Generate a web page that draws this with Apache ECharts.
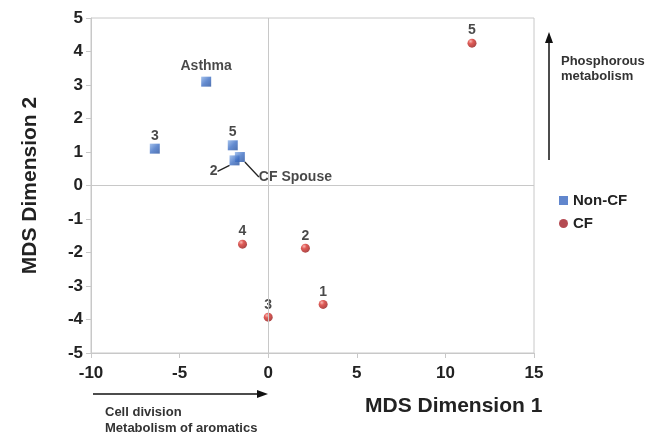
<!DOCTYPE html>
<html><head><meta charset="utf-8">
<script src="https://cdn.jsdelivr.net/npm/echarts@6/dist/echarts.min.js"></script>
<style>html,body{margin:0;padding:0;background:#fff}#c{width:660px;height:434px}</style>
</head><body><div id="c"></div>
<script>
const nonCFLabels = ['Asthma', '3', '5', '2', 'CF Spouse'];
const nonCFx = [-3.5, -6.4, -2.0, -1.9, -1.6];
const nonCFy = [3.1, 1.1, 1.2, 0.75, 0.85];
const cfLabels = ['5', '4', '2', '3', '1'];
const cfX = [11.5, -1.45, 2.1, 0.0, 3.1];
const cfY = [4.25, -1.75, -1.87, -3.93, -3.55];
const xTicks = [-10, -5, 0, 5, 10, 15];
const yTicks = [-5, -4, -3, -2, -1, 0, 1, 2, 3, 4, 5];

const FONT = 'Liberation Sans, Arial, sans-serif';
const chart = echarts.init(document.getElementById('c'));

const labelBase = {show: true, position: 'top', distance: 1, fontFamily: FONT, fontWeight: 'bold', fontSize: 14, color: '#1a1a1a', formatter: p => p.data.name};

const nonCFData = nonCFLabels.map((n, i) => {
  const d = {name: n, value: [nonCFx[i], nonCFy[i]]};
  if (n === '2') { d.label = {position: 'left', distance: 4}; d.labelLine = {show: true}; }
  if (n === 'CF Spouse') { d.label = {position: 'right', distance: 4}; d.labelLine = {show: true}; }
  if (n === 'Asthma') { d.label = {distance: 4}; }
  return d;
});
const cfData = cfLabels.map((n, i) => ({name: n, value: [cfX[i], cfY[i]]}));

chart.setOption({
  animation: false,
  grid: {left: 91, right: 126, top: 18, bottom: 81, show: true, borderColor: '#c8c8c8', borderWidth: 1, backgroundColor: 'transparent'},
  xAxis: {
    type: 'value', min: -10, max: 15, interval: 5,
    axisLine: {show: true, onZero: false, lineStyle: {color: '#c8c8c8', width: 1}},
    axisTick: {show: true, length: 5, lineStyle: {color: '#c8c8c8'}},
    splitLine: {show: false},
    axisLabel: {fontFamily: FONT, fontWeight: 'bold', fontSize: 17, color: '#222', margin: 12, formatter: v => xTicks.includes(v) ? String(v) : ''}
  },
  yAxis: {
    type: 'value', min: -5, max: 5, interval: 1,
    name: 'MDS Dimension 2', nameLocation: 'middle', nameGap: 50,
    nameTextStyle: {fontFamily: FONT, fontWeight: 'bold', fontSize: 21, color: '#222'},
    axisLine: {show: true, onZero: false, lineStyle: {color: '#c8c8c8', width: 1}},
    axisTick: {show: true, length: 5, lineStyle: {color: '#c8c8c8'}},
    splitLine: {show: false},
    axisLabel: {fontFamily: FONT, fontWeight: 'bold', fontSize: 17, color: '#222', margin: 8, formatter: v => yTicks.includes(v) ? String(v) : ''}
  },
  legend: {
    orient: 'vertical', left: 554, top: 188, itemWidth: 9, itemHeight: 9, itemGap: 8,
    textStyle: {fontFamily: FONT, fontWeight: 'bold', fontSize: 15, color: '#222'},
    data: [
      {name: 'Non-CF', icon: 'rect', itemStyle: {color: '#3a68c0'}},
      {name: 'CF', icon: 'circle', itemStyle: {color: '#a11d27'}}
    ]
  },
  series: [
    {
      name: 'Non-CF', type: 'scatter', symbol: 'rect', symbolSize: 10,
      itemStyle: {color: new echarts.graphic.LinearGradient(0, 0, 1, 1, [{offset: 0, color: '#8fb3e8'}, {offset: 0.5, color: '#3e6fc4'}, {offset: 1, color: '#244f9c'}])},
      label: labelBase,
      labelLine: {show: false, lineStyle: {color: '#222', width: 1.3}},
      labelLayout: function (p) {
        const n = nonCFLabels[p.dataIndex];
        if (n === '2') return {dx: -8, dy: 11};
        if (n === 'CF Spouse') return {dx: 10, dy: 20};
        return {};
      },
      data: nonCFData,
      markLine: {
        silent: true, symbol: 'none', label: {show: false},
        lineStyle: {color: '#c8c8c8', width: 1, type: 'solid'},
        data: [{xAxis: 0}, {yAxis: 0}]
      },
      z: 3
    },
    {
      name: 'CF', type: 'scatter', symbol: 'circle', symbolSize: 9,
      itemStyle: {color: new echarts.graphic.RadialGradient(0.35, 0.3, 0.7, [{offset: 0, color: '#f6a5a0'}, {offset: 0.4, color: '#d8322c'}, {offset: 1, color: '#9a1a1a'}])},
      label: labelBase,
      data: cfData,
      z: 3
    }
  ],
  graphic: [
    {type: 'text', left: 365, top: 396, style: {text: 'MDS Dimension 1', fontFamily: FONT, fontWeight: 'bold', fontSize: 21, fill: '#222'}},
    {type: 'line', shape: {x1: 549, y1: 160, x2: 549, y2: 42}, style: {stroke: '#111', lineWidth: 1.5}},
    {type: 'polygon', shape: {points: [[549, 32], [545, 43], [553, 43]]}, style: {fill: '#111'}},
    {type: 'text', left: 561, top: 54, style: {text: 'Phosphorous\nmetabolism', fontFamily: FONT, fontWeight: 'bold', fontSize: 13, lineHeight: 15, fill: '#333'}},
    {type: 'line', shape: {x1: 93, y1: 394, x2: 258, y2: 394}, style: {stroke: '#111', lineWidth: 1.5}},
    {type: 'polygon', shape: {points: [[268, 394], [257, 390], [257, 398]]}, style: {fill: '#111'}},
    {type: 'text', left: 105, top: 404, style: {text: 'Cell division\nMetabolism of aromatics', fontFamily: FONT, fontWeight: 'bold', fontSize: 13, lineHeight: 16, fill: '#333'}}
  ]
});
</script></body></html>
